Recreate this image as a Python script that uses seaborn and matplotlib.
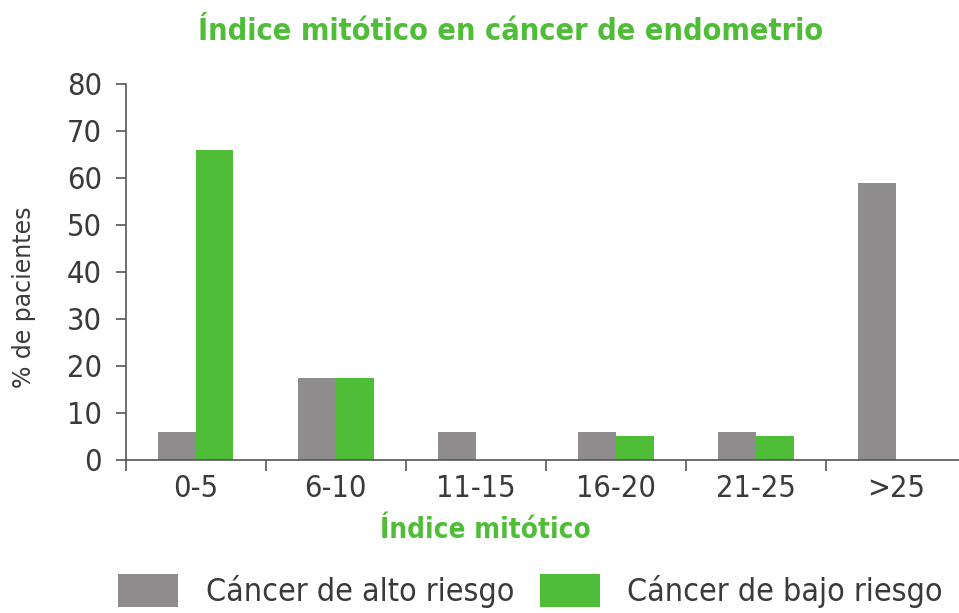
import matplotlib
matplotlib.use("Agg")
import matplotlib.pyplot as plt
import pandas as pd
import seaborn as sns

categories = ["0-5", "6-10", "11-15", "16-20", "21-25", ">25"]
alto_riesgo = [6, 17.5, 6, 6, 6, 59]
bajo_riesgo = [66, 17.5, 0, 5, 5, 0]
series_names = ["Cáncer de alto riesgo", "Cáncer de bajo riesgo"]

GRAY = "#8e8c8d"
GREEN = "#50bd38"
TEXT = "#3a3a3a"

df = pd.DataFrame({
    "categoria": categories * 2,
    "valor": alto_riesgo + bajo_riesgo,
    "serie": [series_names[0]] * len(categories) + [series_names[1]] * len(categories),
})

sns.set_theme(style="white")
plt.rcParams["font.family"] = ["DejaVu Sans"]
plt.rcParams["font.stretch"] = "condensed"

fig = plt.figure(figsize=(9.59, 6.13), dpi=100)
ax = fig.add_axes([0.131, 0.2496, 0.869, 0.6135])

sns.barplot(
    data=df, x="categoria", y="valor", hue="serie",
    palette=[GRAY, GREEN], width=0.54, saturation=1, linewidth=0, ax=ax,
)
handles, labels = ax.get_legend_handles_labels()
ax.get_legend().remove()

ax.set_xlim(-0.5, 5.45)
ax.set_ylim(0, 80)
ax.set_yticks(range(0, 81, 10))
for spine in ["top", "right"]:
    ax.spines[spine].set_visible(False)
for spine in ["left", "bottom"]:
    ax.spines[spine].set_color("#555555")
    ax.spines[spine].set_linewidth(1.2)

ax.tick_params(axis="y", length=7, width=1.2, color="#555555", labelsize=22,
               labelcolor=TEXT, pad=10, left=True)
ax.tick_params(axis="x", length=0, labelsize=22, labelcolor=TEXT, pad=10)
ax.set_xticks([i - 0.5 for i in range(6)], minor=True)
ax.tick_params(axis="x", which="minor", length=8, width=1.2, color="#555555",
               bottom=True, direction="out")

ax.set_ylabel("% de pacientes", fontsize=17, color=TEXT, fontstretch="normal")
ax.yaxis.set_label_coords(-0.108, 0.434)
ax.set_xlabel("Índice mitótico", fontsize=20, color=GREEN, fontweight="bold")
ax.xaxis.set_label_coords(0.432, -0.148)

fig.text(0.532, 0.948, "Índice mitótico en cáncer de endometrio", ha="center", va="center",
         fontsize=22, fontweight="bold", color=GREEN)

fig.legend(handles, labels, loc="center", bbox_to_anchor=(0.553, 0.036), ncol=2,
           frameon=False, fontsize=23, handlelength=1.9, handleheight=1.2,
           columnspacing=0.8, handletextpad=0.85, labelcolor=TEXT)

fig.savefig("out.png", dpi=100)
